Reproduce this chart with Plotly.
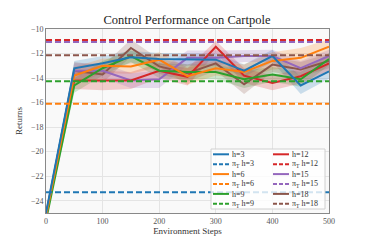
import plotly.graph_objects as go

steps = [0, 50, 100, 150, 200, 250, 300, 350, 400, 450, 500]
horizons = ["3", "6", "9", "12", "15", "18"]
colors = ["#1f77b4", "#ff7f0e", "#2ca02c", "#d62728", "#9467bd", "#8c564b"]

ret_h3 = [-25.0, -13.2, -12.8, -12.3, -12.45, -12.5, -12.5, -13.4, -12.2, -14.6, -13.45]
ret_h6 = [-25.3, -13.8, -13.0, -13.05, -12.5, -13.85, -13.2, -13.5, -12.6, -12.35, -11.45]
ret_h9 = [-25.6, -14.6, -13.2, -12.2, -13.4, -13.5, -13.5, -14.1, -13.7, -14.1, -12.45]
ret_h12 = [-25.2, -14.2, -14.2, -14.2, -13.4, -13.9, -11.45, -13.8, -14.4, -13.85, -12.8]
ret_h15 = [-25.1, -13.4, -13.4, -14.2, -14.1, -12.35, -12.35, -12.2, -12.2, -13.2, -12.2]
ret_h18 = [-25.2, -13.4, -13.7, -11.55, -13.05, -13.6, -12.8, -14.5, -12.9, -13.3, -12.6]

std_h3 = [0.0, 0.6, 0.6, 0.5, 0.5, 0.5, 0.5, 0.5, 0.5, 0.7, 0.6]
std_h6 = [0.0, 0.7, 0.6, 0.6, 0.6, 0.7, 0.6, 0.6, 0.7, 0.8, 0.6]
std_h9 = [0.0, 0.6, 0.6, 0.5, 0.6, 0.6, 0.6, 0.7, 0.6, 0.6, 0.5]
std_h12 = [0.0, 0.7, 0.8, 0.7, 0.6, 0.7, 0.5, 0.6, 0.6, 0.6, 0.6]
std_h15 = [0.0, 0.6, 0.6, 0.6, 0.7, 0.6, 0.6, 0.5, 0.5, 0.6, 0.5]
std_h18 = [0.0, 0.7, 0.7, 0.7, 0.6, 0.7, 0.6, 0.8, 0.6, 0.6, 0.6]

pi_T = [-23.3, -16.1, -14.25, -10.9, -11.05, -12.15]

means = [ret_h3, ret_h6, ret_h9, ret_h12, ret_h15, ret_h18]
stds = [std_h3, std_h6, std_h9, std_h12, std_h15, std_h18]

def rgba(hexc, a):
    h = hexc.lstrip("#")
    return "rgba(%d,%d,%d,%s)" % (int(h[0:2], 16), int(h[2:4], 16), int(h[4:6], 16), a)

fig = go.Figure()

for m, s, c in zip(means, stds, colors):
    up = [a + b for a, b in zip(m, s)]
    lo = [a - b for a, b in zip(m, s)]
    fig.add_trace(go.Scatter(x=steps + steps[::-1], y=up + lo[::-1], fill="toself",
                             fillcolor=rgba(c, 0.22), line=dict(width=0),
                             showlegend=False, hoverinfo="skip"))

for m, c in list(zip(means, colors))[::-1]:
    fig.add_trace(go.Scatter(x=steps, y=m, mode="lines", line=dict(color=c, width=2),
                             showlegend=False))

for v, c in zip(pi_T, colors):
    fig.add_trace(go.Scatter(x=[steps[0], steps[-1]], y=[v, v], mode="lines",
                             line=dict(color=c, width=2, dash="6px,3px"), showlegend=False))

# page body has an 8px margin: work in reference pixels, shift by OFF
OFF = 8
W, H = 366 - 2 * OFF, 244 - 2 * OFF
L, R, T, B = 46 - OFF, 329 - OFF, 29 - OFF, 213 - OFF

def px(x): return (x - OFF - L) / (R - L)
def py(y): return (B - (y - OFF)) / (B - T)

shapes = [dict(type="rect", xref="paper", yref="paper", x0=px(211), x1=px(325),
               y0=py(209), y1=py(149), fillcolor="rgba(255,255,255,0.8)",
               line=dict(color="#d0d0d0", width=1), layer="above")]
annotations = []
labels = []
for i, h in enumerate(horizons):
    col = i // 3
    r0 = (i % 3) * 2
    labels.append((col, r0, "h=" + h, colors[i], "solid"))
    labels.append((col, r0 + 1, "π<sub>T</sub> h=" + h, colors[i], "4px,2px"))
for col, row, text, c, dash in labels:
    yy = 154.3 + row * 9.9
    x0 = 213 if col == 0 else 273
    shapes.append(dict(type="line", xref="paper", yref="paper", x0=px(x0), x1=px(x0 + 16),
                       y0=py(yy), y1=py(yy), line=dict(color=c, width=2, dash=dash), layer="above"))
    annotations.append(dict(xref="paper", yref="paper", x=px(x0 + 18), y=py(yy), text=text,
                            showarrow=False, xanchor="left", yanchor="middle",
                            width=36, height=10, align="left", borderpad=0,
                            font=dict(family="Liberation Serif", size=8, color="#333")))

fig.update_layout(
    width=W, height=H,
    margin=dict(l=L, r=W - R, t=T, b=H - B),
    paper_bgcolor="white", plot_bgcolor="#f9f9f9",
    font=dict(family="Liberation Serif", color="#444"),
    title=dict(text="Control Performance on Cartpole", x=(187 - OFF) / W, xanchor="center",
               y=1 - (20 - OFF) / H, yanchor="middle", font=dict(size=12.5, color="#222")),
    showlegend=False,
    shapes=shapes, annotations=annotations,
)
fig.update_xaxes(range=[0, 500], tickvals=[0, 100, 200, 300, 400, 500],
                 showgrid=True, gridcolor="#e4e4e4", gridwidth=1, zeroline=False,
                 showline=True, linecolor="#888", linewidth=1, mirror=True, automargin=False,
                 ticks="", tickfont=dict(size=8, color="#555"),
                 title=dict(text="Environment Steps", font=dict(size=9, color="#333"), standoff=4))
fig.update_yaxes(range=[-25, -10], tickvals=[-10, -12, -14, -16, -18, -20, -22, -24],
                 ticktext=["−10", "−12", "−14", "−16", "−18", "−20", "−22", "−24"],
                 showgrid=True, gridcolor="#e4e4e4", gridwidth=1, zeroline=False,
                 showline=True, linecolor="#888", linewidth=1, mirror=True, automargin=False,
                 ticks="", tickfont=dict(size=8, color="#555"),
                 title=dict(text="Returns", font=dict(size=9, color="#333"), standoff=6))

fig.write_html("out.html")
